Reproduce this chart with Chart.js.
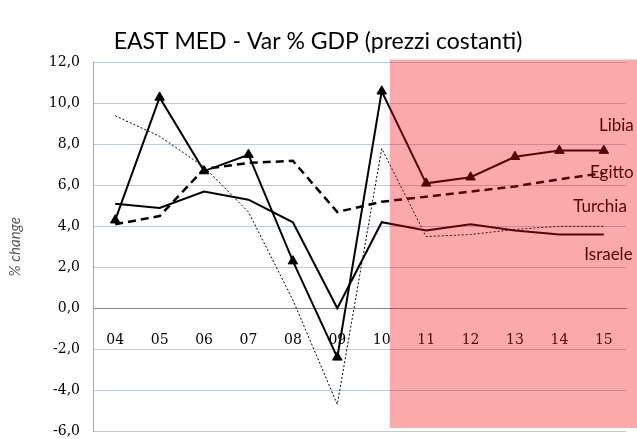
<!DOCTYPE html>
<html lang="it">
<head>
<meta charset="UTF-8">
<title>EAST MED - Var % GDP (prezzi costanti)</title>
<script src="https://cdn.jsdelivr.net/npm/chart.js"></script>
<style>
  body { margin: 0; background: #fff; }
  #wrap { width: 637px; height: 439px; }
</style>
</head>
<body>
<div id="wrap"><canvas id="chart" width="637" height="439"></canvas></div>
<script>
// anni (04 = 2004 ... 15 = 2015)
const years = ['04', '05', '06', '07', '08', '09', '10', '11', '12', '13', '14', '15'];
const libia    = [4.3, 10.3, 6.7, 7.5, 2.3, -2.4, 10.6, 6.1, 6.4, 7.4, 7.7, 7.7];
const egitto   = [4.1, 4.5, 6.8, 7.1, 7.2, 4.7, 5.2, 5.45, 5.7, 5.95, 6.3, 6.6];
const turchia  = [9.4, 8.4, 6.9, 4.7, 0.4, -4.7, 7.8, 3.5, 3.6, 3.85, 4.0, 4.0];
const israele  = [5.1, 4.9, 5.7, 5.3, 4.2, 0.0, 4.2, 3.8, 4.1, 3.8, 3.6, 3.6];
const countries = ['Libia', 'Egitto', 'Turchia', 'Israele'];
const yMin = -6, yMax = 12, yStep = 2;

// dove scrivere i nomi dei paesi (indice categoria, valore)
const namePos = [
  { at: 10.89, val: 8.95 },
  { at: 10.69, val: 6.65 },
  { at: 10.31, val: 4.95 },
  { at: 10.56, val: 2.6 }
];

const seriesNames = {
  id: 'seriesNames',
  afterDatasetsDraw(chart) {
    const { ctx, scales: { x, y } } = chart;
    const step = x.getPixelForValue(1) - x.getPixelForValue(0);
    ctx.save();
    ctx.font = '17px Lato';
    ctx.fillStyle = '#000';
    ctx.textAlign = 'left';
    ctx.textBaseline = 'middle';
    countries.forEach(function(name, i) {
      const p = namePos[i];
      const px = x.getPixelForValue(0) + p.at * step;
      ctx.fillText(name, px, y.getPixelForValue(p.val));
    });
    ctx.restore();
  }
};

// zona rosa delle previsioni, disegnata sopra a tutto
const forecastShade = {
  id: 'forecastShade',
  afterDraw(chart) {
    const { ctx, scales: { x, y } } = chart;
    const step = x.getPixelForValue(1) - x.getPixelForValue(0);
    const left = x.getPixelForValue(6) + step * 0.18;
    const top = y.getPixelForValue(yMax + 0.15);
    const bottom = y.getPixelForValue(yMin + 0.15);
    ctx.save();
    ctx.fillStyle = 'rgba(240, 12, 12, 0.35)';
    ctx.fillRect(left, top, chart.width - left, bottom - top);
    ctx.restore();
  }
};

new Chart(document.getElementById('chart'), {
  type: 'line',
  data: {
    labels: years,
    datasets: [
      {
        label: 'Libia', data: libia,
        borderColor: '#000', backgroundColor: '#000', borderWidth: 2,
        pointStyle: 'triangle', pointRadius: 5.5, pointBorderWidth: 1,
        tension: 0
      },
      {
        label: 'Egitto', data: egitto,
        borderColor: '#000', borderWidth: 2.5, borderDash: [8, 5],
        pointRadius: 0, tension: 0
      },
      {
        label: 'Turchia', data: turchia,
        borderColor: '#000', borderWidth: 1, borderDash: [2, 2],
        pointRadius: 0, tension: 0
      },
      {
        label: 'Israele', data: israele,
        borderColor: '#000', borderWidth: 2,
        pointRadius: 0, tension: 0
      }
    ]
  },
  options: {
    responsive: false,
    animation: false,
    layout: { padding: { left: 0, right: 1, top: 0, bottom: 8 } },
    plugins: {
      legend: { display: false },
      tooltip: { enabled: false },
      title: {
        display: true,
        text: 'EAST MED - Var % GDP (prezzi costanti)',
        color: '#000',
        font: { family: 'Lato', size: 23, weight: 'normal', lineHeight: 1.2 },
        padding: { top: 28, bottom: 7 }
      }
    },
    scales: {
      x: {
        position: { y: 0 },
        offset: true,
        grid: { display: false, drawTicks: false },
        border: { display: true, color: '#868686', width: 1 },
        ticks: {
          color: '#000',
          padding: 24,
          maxRotation: 0,
          font: { family: 'DejaVu Serif', size: 14 }
        }
      },
      y: {
        min: yMin, max: yMax,
        afterFit: function(s) {
          s.width = 93;
          s.paddingTop = 0;
          s.paddingBottom = 0;
        },
        grid: {
          drawTicks: false,
          color: function(c) { return c.tick && c.tick.value === 0 ? '#868686' : '#BFCADB'; }
        },
        border: { display: true, color: '#A6A6A6' },
        ticks: {
          stepSize: yStep,
          color: '#000',
          padding: 13,
          font: { family: 'DejaVu Serif', size: 14 },
          callback: function(v) { return v.toFixed(1).replace('.', ','); }
        },
        title: {
          display: true,
          text: '% change',
          color: '#595959',
          padding: { top: 6, bottom: 0 },
          font: { family: 'Lato', size: 15, style: 'italic' }
        }
      }
    }
  },
  plugins: [seriesNames, forecastShade]
});
</script>
</body>
</html>
